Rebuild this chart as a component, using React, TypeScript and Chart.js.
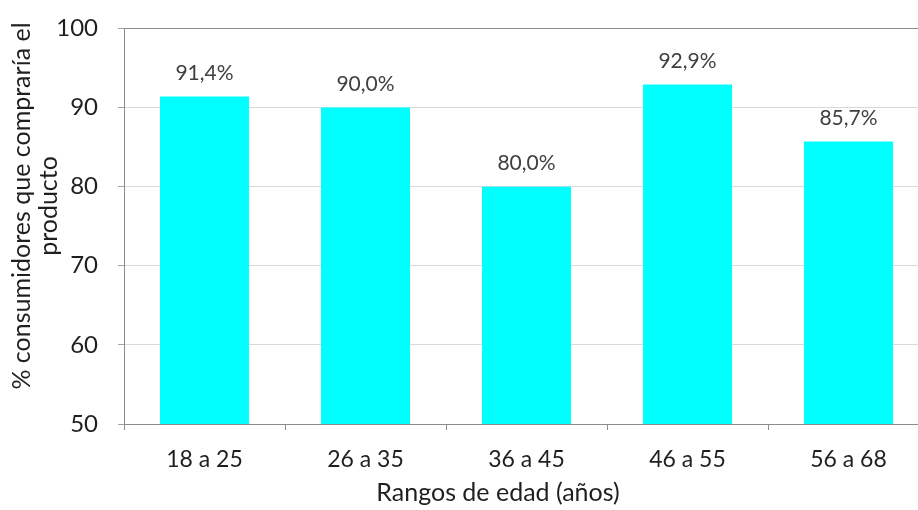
import React, { useEffect, useRef } from "react";
import { Chart, registerables } from "chart.js";

Chart.register(...registerables);

const categories: string[] = ["18 a 25", "26 a 35", "36 a 45", "46 a 55", "56 a 68"];
const values: number[] = [91.4, 90.0, 80.0, 92.9, 85.7];
const yMin = 50;
const yMax = 100;
const yStep = 10;
const xTitle = "Rangos de edad (años)";
const yTitleLines: string[] = ["% consumidores que compraría el", "producto"];

const FONT = "Lato, 'Open Sans', sans-serif";
const SHIFT = 6;

const labelsPlugin = {
  id: "barValueLabels",
  afterDatasetsDraw(chart: any) {
    const ctx = chart.ctx;
    const meta = chart.getDatasetMeta(0);
    ctx.save();
    ctx.font = `21px ${FONT}`;
    ctx.fillStyle = "#404040";
    ctx.textAlign = "center";
    ctx.textBaseline = "middle";
    meta.data.forEach((bar: any, i: number) => {
      const v = values[i];
      const txt = v.toFixed(1).replace(".", ",") + "%";
      ctx.fillText(txt, bar.x, bar.y - 23);
    });
    ctx.restore();
  },
};

const titlesPlugin = {
  id: "axisTitles",
  afterDraw(chart: any) {
    const ctx = chart.ctx;
    ctx.save();
    ctx.font = `25px ${FONT}`;
    ctx.fillStyle = "#1f1f1f";
    ctx.textAlign = "center";
    ctx.textBaseline = "middle";
    ctx.fillText(xTitle, 498, 493 + SHIFT);
    ctx.translate(0, 206 + SHIFT);
    ctx.rotate(-Math.PI / 2);
    ctx.fillText(yTitleLines[0], 0, 22);
    ctx.fillText(yTitleLines[1], 0, 49);
    ctx.restore();
  },
};

export default function App() {
  const ref = useRef<HTMLCanvasElement | null>(null);
  useEffect(() => {
    if (!ref.current) return;
    const chart = new Chart(ref.current, {
      type: "bar",
      data: {
        labels: categories,
        datasets: [
          {
            data: values,
            backgroundColor: "#00FFFF",
            borderWidth: 0,
            categoryPercentage: 1,
            barPercentage: 0.553,
          },
        ],
      },
      options: {
        animation: false,
        responsive: false,
        layout: { padding: { top: 0, right: 11, left: 0, bottom: 0 } },
        plugins: {
          legend: { display: false },
          tooltip: { enabled: false },
        },
        scales: {
          x: {
            grid: {
              offset: true,
              drawOnChartArea: false,
              drawTicks: true,
              tickLength: 6,
              color: "#8c8c8c",
            },
            border: { display: true, color: "#8c8c8c", width: 1 },
            ticks: {
              font: { family: FONT, size: 23 },
              color: "#1f1f1f",
              padding: 16,
            },
            afterFit(scale: any) {
              scale.height = 86;
            },
          },
          y: {
            min: yMin,
            max: yMax,
            ticks: {
              stepSize: yStep,
              font: { family: FONT, size: 24 },
              color: "#1f1f1f",
              padding: 20,
            },
            grid: {
              color: (c: any) => (c.tick && c.tick.value === yMax ? "#8c8c8c" : "#d9d9d9"),
              tickColor: "#a6a6a6",
              tickLength: 6,
            },
            border: { display: true, color: "#8c8c8c", width: 1 },
            afterFit(scale: any) {
              scale.width = 124;
            },
          },
        },
      },
      plugins: [labelsPlugin, titlesPlugin],
    });
    return () => chart.destroy();
  }, []);
  return (
    <div style={{ position: "relative", width: 940, height: 510, overflow: "hidden", background: "#fff" }}>
      <style>{"body{margin:0;overflow:hidden;background:#fff}"}</style>
      <canvas
        ref={ref}
        width={940}
        height={510 + SHIFT}
        style={{ display: "block", position: "absolute", left: 0, top: -SHIFT }}
      />
    </div>
  );
}
